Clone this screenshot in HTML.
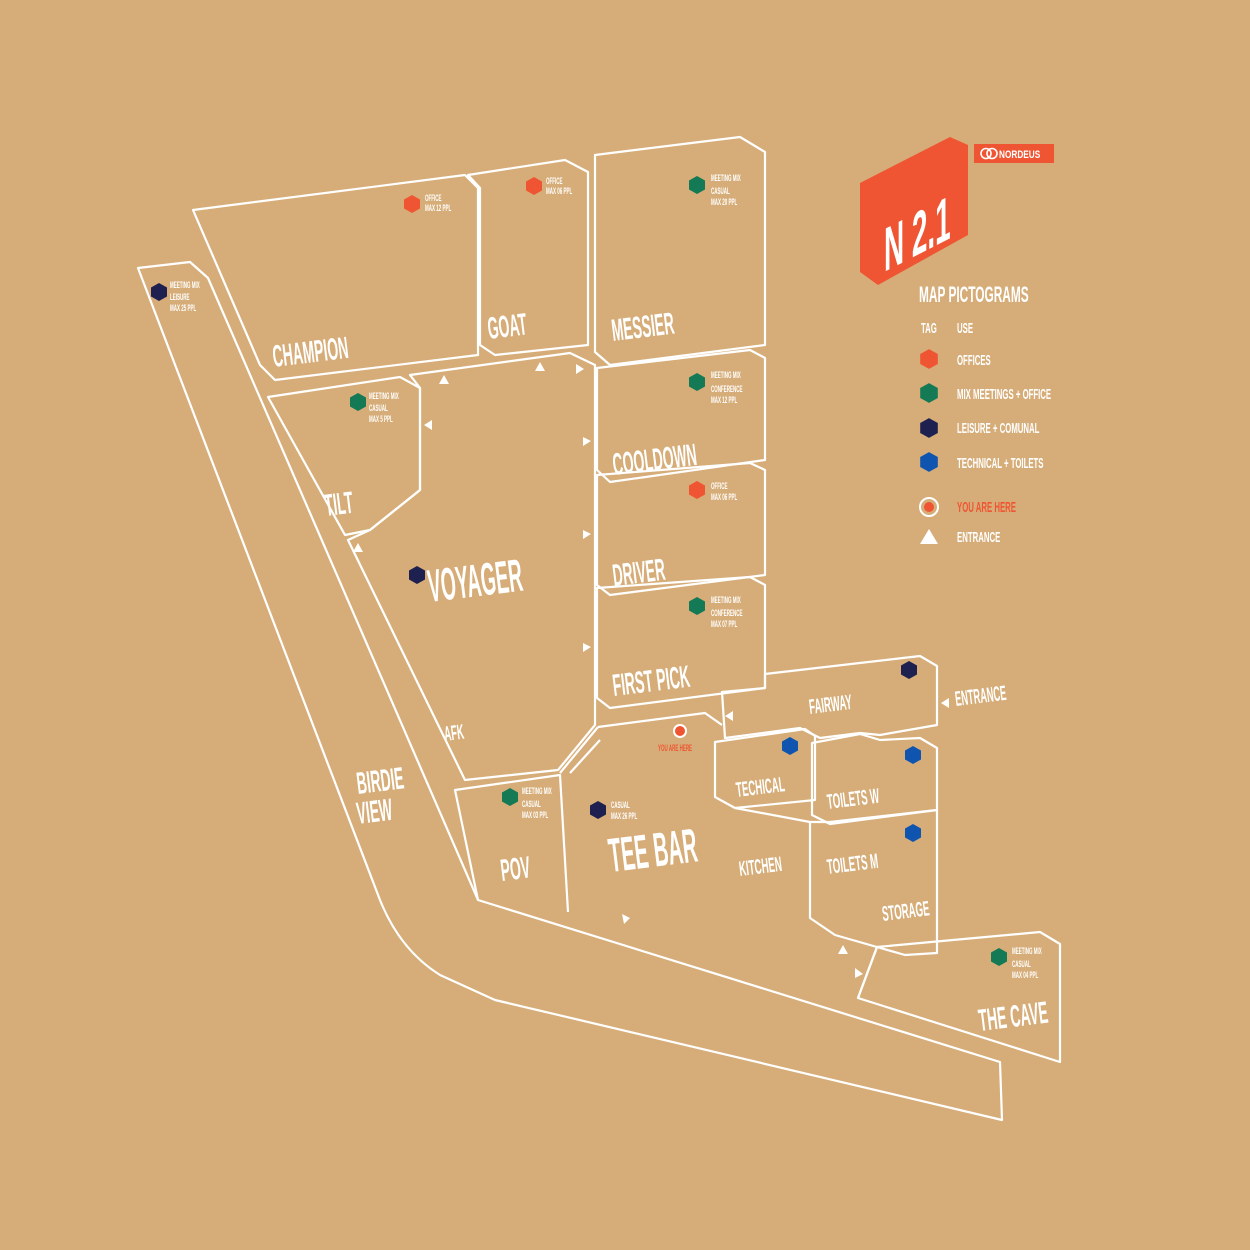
<!DOCTYPE html>
<html><head><meta charset="utf-8"><style>
html,body{margin:0;padding:0;background:#d6ad78;}
svg{display:block}
text{font-family:"Liberation Sans Narrow","Liberation Sans",sans-serif;font-weight:bold;fill:#fff}
</style></head><body>
<svg width="1250" height="1250" viewBox="0 0 1250 1250" xmlns="http://www.w3.org/2000/svg">
<defs>
<polygon id="hx" points="0,-9 8,-4.5 8,4.5 0,9 -8,4.5 -8,-4.5"/>
<polygon id="tu" points="0,-5 5,4 -5,4" fill="#fff"/>
</defs>
<rect width="1250" height="1250" fill="#d6ad78"/>
<g fill="none" stroke="#fff" stroke-width="2.2" stroke-linejoin="round">
<path d="M138,268 L190,262 L208,278 L478,900 L1000,1062 L1002,1120 L495,1000 L440,975 Q400,950 380,900 Z"/>
<polygon points="193,210 465,175 478,188 478,355 275,380 260,365"/>
<polygon points="468,175 565,160 588,172 588,345 495,355 480,345 480,188"/>
<polygon points="595,155 740,137 765,152 765,345 610,365 595,352"/>
<polygon points="268,397 400,377 420,388 420,490 370,530 345,535"/>
<polygon points="410,375 570,353 595,365 595,725 558,770 465,780 348,540 370,530 420,490 420,388"/>
<polygon points="597,368 750,350 765,358 765,460 610,482 597,470"/>
<polygon points="597,475 750,463 765,470 765,575 610,595 597,585"/>
<polygon points="597,588 750,577 765,585 765,688 610,708 597,698"/>
<polygon points="722,692 765,688 765,674 920,656 937,666 937,725 880,735 860,733 820,738 800,728 725,738"/>
<polygon points="715,742 805,729 815,736 815,800 735,808 715,797"/>
<polygon points="812,743 860,734 880,740 920,738 937,748 937,810 830,824 812,815"/>
<polygon points="810,822 830,822 937,810 937,953 905,955 835,935 810,918"/>
<polygon points="877,947 1040,932 1060,944 1060,1062 858,998"/>
<polyline points="598,727 705,713 722,725"/>
<polyline points="560,773 598,727"/>
<polyline points="570,773 600,740"/>
<polyline points="478,900 455,790 560,775 568,912"/>
<polyline points="735,808 810,822"/>
<polyline points="877,947 858,998"/>
</g>
<use href="#tu" x="444" y="380"/><use href="#tu" x="540" y="367"/>
<use href="#tu" x="358" y="548"/><use href="#tu" x="843" y="950"/>
<polygon points="576,364 584,369 576,374" fill="#fff"/><polygon points="583,437 591,441 583,446" fill="#fff"/>
<polygon points="583,530 591,534 583,539" fill="#fff"/><polygon points="583,643 591,647 583,652" fill="#fff"/>
<polygon points="432,420 424,425 432,430" fill="#fff"/><polygon points="733,711 725,716 733,721" fill="#fff"/>
<polygon points="949,698 941,703 949,708" fill="#fff"/>
<polygon points="622,914 630,918 624,924" fill="#fff"/><polygon points="855,968 863,974 855,978" fill="#fff"/>
<use href="#hx" x="412" y="204" fill="#ef5533"/>
<use href="#hx" x="534" y="186" fill="#ef5533"/>
<use href="#hx" x="697" y="185" fill="#137a55"/>
<use href="#hx" x="159" y="292" fill="#1e2050"/>
<use href="#hx" x="358" y="402" fill="#137a55"/>
<use href="#hx" x="697" y="382" fill="#137a55"/>
<use href="#hx" x="697" y="490" fill="#ef5533"/>
<use href="#hx" x="697" y="606" fill="#137a55"/>
<use href="#hx" x="417" y="575" fill="#1e2050"/>
<use href="#hx" x="909" y="670" fill="#1e2050"/>
<use href="#hx" x="790" y="746" fill="#0f55b0"/>
<use href="#hx" x="913" y="755" fill="#0f55b0"/>
<use href="#hx" x="913" y="833" fill="#0f55b0"/>
<use href="#hx" x="510" y="797" fill="#137a55"/>
<use href="#hx" x="598" y="810" fill="#1e2050"/>
<use href="#hx" x="999" y="957" fill="#137a55"/>
<circle cx="680" cy="731" r="6" fill="#ef5533" stroke="#fff" stroke-width="2"/>
<g font-size="31">
<text transform="translate(274,367) rotate(-7) scale(0.45,1)">CHAMPION</text>
<text transform="translate(489,339) rotate(-7) scale(0.45,1)">GOAT</text>
<text transform="translate(613,341) rotate(-7) scale(0.45,1)">MESSIER</text>
<text transform="translate(326,516) rotate(-7) scale(0.45,1)">TILT</text>
<text transform="translate(614,475) rotate(-7) scale(0.45,1)">COOLDOWN</text>
<text transform="translate(614,586) rotate(-7) scale(0.45,1)">DRIVER</text>
<text transform="translate(614,696) rotate(-7) scale(0.45,1)">FIRST PICK</text>
<text transform="translate(358,794) rotate(-7) scale(0.45,1)">BIRDIE</text>
<text transform="translate(358,824) rotate(-7) scale(0.45,1)">VIEW</text>
<text transform="translate(502,881) rotate(-7) scale(0.45,1)">POV</text>
<text transform="translate(980,1031) rotate(-7) scale(0.45,1)">THE CAVE</text>
</g>
<text font-size="46" transform="translate(430,602) rotate(-7) scale(0.42,1)">VOYAGER</text>
<text font-size="48" transform="translate(611,872) rotate(-7) scale(0.42,1)">TEE BAR</text>
<g font-size="21">
<text transform="translate(810,714) rotate(-7) scale(0.46,1)">FAIRWAY</text>
<text transform="translate(737,797) rotate(-7) scale(0.46,1)">TECHICAL</text>
<text transform="translate(828,809) rotate(-7) scale(0.46,1)">TOILETS W</text>
<text transform="translate(828,874) rotate(-7) scale(0.46,1)">TOILETS M</text>
<text transform="translate(883,921) rotate(-7) scale(0.46,1)">STORAGE</text>
<text transform="translate(740,876) rotate(-7) scale(0.46,1)">KITCHEN</text>
<text transform="translate(445,741) rotate(-7) scale(0.46,1)">AFK</text>
<text transform="translate(956,706) rotate(-7) scale(0.44,1)">ENTRANCE</text>
</g>
<g font-size="9">
<text transform="translate(425,201) scale(0.5,1)">OFFICE</text><text transform="translate(425,211) scale(0.5,1)">MAX 12 PPL</text>
<text transform="translate(546,184) scale(0.5,1)">OFFICE</text><text transform="translate(546,194) scale(0.5,1)">MAX 06 PPL</text>
<text transform="translate(711,181) scale(0.5,1)">MEETING MIX</text><text transform="translate(711,194) scale(0.5,1)">CASUAL</text><text transform="translate(711,205) scale(0.5,1)">MAX 20 PPL</text>
<text transform="translate(170,288) scale(0.5,1)">MEETING MIX</text><text transform="translate(170,300) scale(0.5,1)">LEISURE</text><text transform="translate(170,311) scale(0.5,1)">MAX 25 PPL</text>
<text transform="translate(369,399) scale(0.5,1)">MEETING MIX</text><text transform="translate(369,411) scale(0.5,1)">CASUAL</text><text transform="translate(369,422) scale(0.5,1)">MAX 5 PPL</text>
<text transform="translate(711,378) scale(0.5,1)">MEETING MIX</text><text transform="translate(711,392) scale(0.5,1)">CONFERENCE</text><text transform="translate(711,403) scale(0.5,1)">MAX 12 PPL</text>
<text transform="translate(711,489) scale(0.5,1)">OFFICE</text><text transform="translate(711,500) scale(0.5,1)">MAX 06 PPL</text>
<text transform="translate(711,603) scale(0.5,1)">MEETING MIX</text><text transform="translate(711,616) scale(0.5,1)">CONFERENCE</text><text transform="translate(711,627) scale(0.5,1)">MAX 07 PPL</text>
<text transform="translate(522,794) scale(0.5,1)">MEETING MIX</text><text transform="translate(522,807) scale(0.5,1)">CASUAL</text><text transform="translate(522,818) scale(0.5,1)">MAX 03 PPL</text>
<text transform="translate(611,808) scale(0.5,1)">CASUAL</text><text transform="translate(611,819) scale(0.5,1)">MAX 26 PPL</text>
<text transform="translate(1012,954) scale(0.5,1)">MEETING MIX</text><text transform="translate(1012,967) scale(0.5,1)">CASUAL</text><text transform="translate(1012,978) scale(0.5,1)">MAX 04 PPL</text>
<text transform="translate(658,751) scale(0.5,1)" style="fill:#ef5533">YOU ARE HERE</text>
</g>
<polygon points="860,183 950,137 968,145 968,235 878,285 860,272" fill="#ef5533"/>
<text font-size="62" transform="translate(884,272) skewY(-27) scale(0.45,1)">N 2.1</text>
<rect x="974" y="144" width="80" height="19" fill="#ef5533"/>
<circle cx="986" cy="153.5" r="5" fill="none" stroke="#fff" stroke-width="1.6"/>
<circle cx="992" cy="153.5" r="5" fill="none" stroke="#fff" stroke-width="1.6"/>
<text font-size="11" transform="translate(999,158) scale(0.75,1)">NORDEUS</text>
<text font-size="22" transform="translate(919,302) scale(0.54,1)">MAP PICTOGRAMS</text>
<g font-size="15">
<text transform="translate(921,333) scale(0.52,1)">TAG</text><text transform="translate(957,333) scale(0.52,1)">USE</text>
<text transform="translate(957,365) scale(0.52,1)">OFFICES</text>
<text transform="translate(957,399) scale(0.52,1)">MIX MEETINGS + OFFICE</text>
<text transform="translate(957,433) scale(0.52,1)">LEISURE + COMUNAL</text>
<text transform="translate(957,468) scale(0.52,1)">TECHNICAL + TOILETS</text>
<text transform="translate(957,512) scale(0.52,1)" style="fill:#ef5533">YOU ARE HERE</text>
<text transform="translate(957,542) scale(0.52,1)">ENTRANCE</text>
</g>
<use href="#hx" x="929" y="359" fill="#ef5533" transform="translate(-92.9,-35.9) scale(1.1)"/>
<use href="#hx" x="929" y="393" fill="#137a55" transform="translate(-92.9,-39.3) scale(1.1)"/>
<use href="#hx" x="929" y="428" fill="#1e2050" transform="translate(-92.9,-42.8) scale(1.1)"/>
<use href="#hx" x="929" y="462" fill="#0f55b0" transform="translate(-92.9,-46.2) scale(1.1)"/>
<circle cx="929" cy="507" r="9" fill="none" stroke="#fff" stroke-width="2"/>
<circle cx="929" cy="507" r="5" fill="#ef5533"/>
<polygon points="929,529 938,544 920,544" fill="#fff"/>
</svg>
</body></html>
